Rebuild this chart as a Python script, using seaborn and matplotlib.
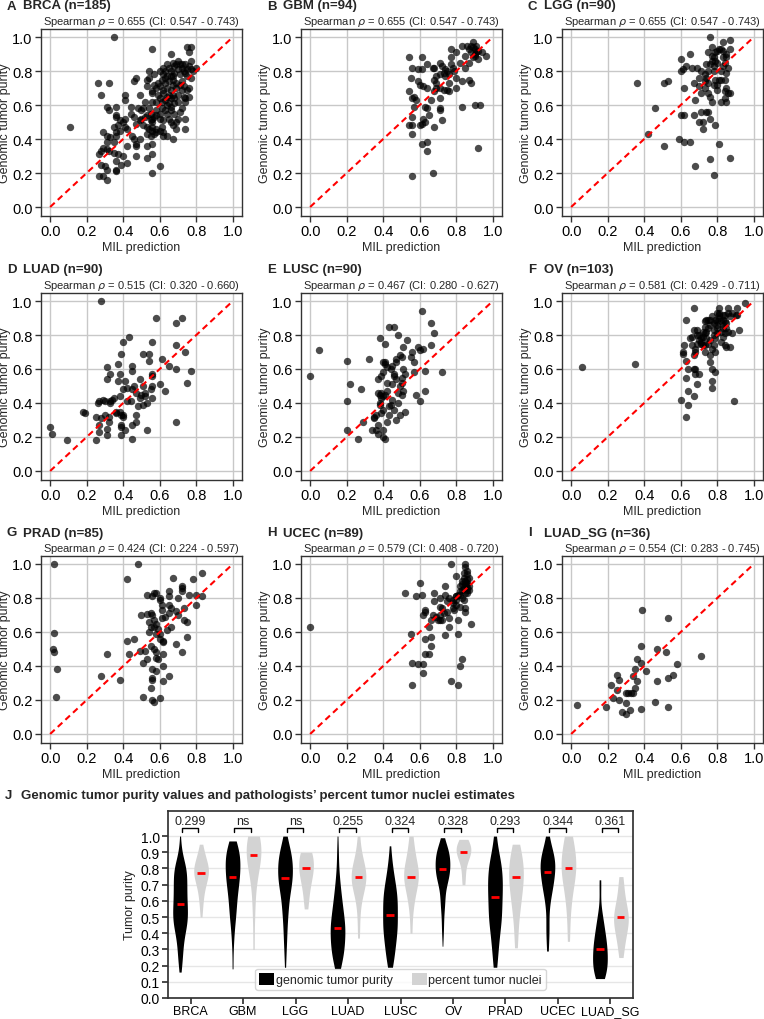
import numpy as np
import pandas as pd
import matplotlib.pyplot as plt
import seaborn as sns

# ---------------- data ----------------
cancers = ["BRCA", "GBM", "LGG", "LUAD", "LUSC", "OV", "PRAD", "UCEC", "LUAD_SG"]
letters = ["A", "B", "C", "D", "E", "F", "G", "H", "I"]
n_cases = [185, 94, 90, 90, 90, 103, 85, 89, 36]
spearman = ["0.655 (CI: 0.547 - 0.743)", "0.655 (CI: 0.547 - 0.743)",
            "0.655 (CI: 0.547 - 0.743)", "0.515 (CI: 0.320 - 0.660)",
            "0.467 (CI: 0.280 - 0.627)", "0.581 (CI: 0.429 - 0.711)",
            "0.424 (CI: 0.224 - 0.597)", "0.579 (CI: 0.408 - 0.720)",
            "0.554 (CI: 0.283 - 0.745)"]
pair_labels = ["0.299", "ns", "ns", "0.255", "0.324", "0.328", "0.293", "0.344", "0.361"]

# (MIL prediction, genomic tumor purity)
brca = [(0.35, 1.00), (0.56, 0.93), (0.75, 0.94), (0.77, 0.94), (0.66, 0.90), (0.76, 0.91), (0.67, 0.85),
        (0.69, 0.84), (0.71, 0.84), (0.72, 0.84), (0.74, 0.84), (0.77, 0.86), (0.80, 0.82), (0.75, 0.81),
        (0.77, 0.81), (0.54, 0.80), (0.60, 0.80), (0.63, 0.80), (0.65, 0.82), (0.57, 0.78), (0.53, 0.75),
        (0.54, 0.76), (0.47, 0.76), (0.46, 0.74), (0.64, 0.77), (0.66, 0.77), (0.67, 0.77), (0.71, 0.78),
        (0.73, 0.80), (0.75, 0.77), (0.77, 0.76), (0.26, 0.73), (0.32, 0.73), (0.58, 0.70), (0.60, 0.71),
        (0.63, 0.73), (0.64, 0.70), (0.67, 0.72), (0.69, 0.73), (0.72, 0.74), (0.76, 0.70), (0.75, 0.69),
        (0.53, 0.71), (0.28, 0.66), (0.41, 0.66), (0.41, 0.63), (0.49, 0.66), (0.56, 0.68), (0.56, 0.67),
        (0.62, 0.67), (0.64, 0.65), (0.65, 0.66), (0.66, 0.69), (0.67, 0.66), (0.68, 0.64), (0.73, 0.65),
        (0.74, 0.64), (0.76, 0.65), (0.31, 0.59), (0.32, 0.57), (0.36, 0.59), (0.36, 0.54), (0.36, 0.53),
        (0.44, 0.59), (0.46, 0.53), (0.50, 0.57), (0.51, 0.58), (0.54, 0.58), (0.55, 0.55), (0.56, 0.62),
        (0.58, 0.62), (0.61, 0.62), (0.63, 0.63), (0.65, 0.61), (0.66, 0.59), (0.61, 0.58), (0.63, 0.57),
        (0.64, 0.55), (0.58, 0.57), (0.60, 0.55), (0.66, 0.57), (0.68, 0.55), (0.72, 0.58), (0.71, 0.56),
        (0.74, 0.52), (0.41, 0.52), (0.40, 0.50), (0.38, 0.51), (0.49, 0.51), (0.50, 0.52), (0.52, 0.53),
        (0.53, 0.54), (0.55, 0.51), (0.56, 0.52), (0.56, 0.50), (0.57, 0.53), (0.58, 0.54), (0.60, 0.52),
        (0.62, 0.51), (0.65, 0.52), (0.66, 0.50), (0.69, 0.50), (0.70, 0.52), (0.35, 0.47), (0.37, 0.48),
        (0.41, 0.47), (0.42, 0.46), (0.47, 0.49), (0.51, 0.48), (0.53, 0.47), (0.54, 0.46), (0.56, 0.47),
        (0.56, 0.45), (0.58, 0.46), (0.60, 0.45), (0.61, 0.47), (0.62, 0.44), (0.64, 0.42), (0.67, 0.48),
        (0.69, 0.46), (0.74, 0.46), (0.29, 0.44), (0.31, 0.42), (0.36, 0.42), (0.36, 0.44), (0.38, 0.45),
        (0.45, 0.42), (0.46, 0.40), (0.53, 0.43), (0.55, 0.42), (0.57, 0.43), (0.58, 0.44), (0.62, 0.42),
        (0.47, 0.37), (0.49, 0.40), (0.56, 0.37), (0.67, 0.40), (0.35, 0.38), (0.33, 0.41), (0.31, 0.38),
        (0.29, 0.35), (0.31, 0.34), (0.42, 0.36), (0.47, 0.36), (0.53, 0.36), (0.28, 0.33), (0.32, 0.33),
        (0.35, 0.32), (0.37, 0.31), (0.27, 0.31), (0.40, 0.30), (0.47, 0.30), (0.53, 0.29), (0.56, 0.31),
        (0.36, 0.27), (0.39, 0.25), (0.42, 0.26), (0.28, 0.25), (0.30, 0.24), (0.36, 0.22), (0.60, 0.24),
        (0.56, 0.20), (0.31, 0.22), (0.27, 0.18), (0.29, 0.18), (0.31, 0.16), (0.36, 0.21), (0.11, 0.47),
        (0.62, 0.78), (0.70, 0.81), (0.68, 0.79), (0.59, 0.66), (0.70, 0.62), (0.48, 0.58), (0.44, 0.55),
        (0.52, 0.62), (0.72, 0.69), (0.78, 0.80), (0.62, 0.82), (0.64, 0.84), (0.66, 0.80), (0.68, 0.83),
        (0.70, 0.86), (0.72, 0.82), (0.74, 0.79), (0.76, 0.83), (0.61, 0.75), (0.63, 0.76), (0.65, 0.74),
        (0.67, 0.75), (0.69, 0.70), (0.71, 0.72), (0.73, 0.71), (0.59, 0.73), (0.62, 0.69), (0.66, 0.64),
        (0.70, 0.66), (0.60, 0.64), (0.57, 0.72), (0.68, 0.61), (0.74, 0.62), (0.64, 0.60)]
gbm = [(0.54, 0.88), (0.61, 0.88), (0.56, 0.82), (0.59, 0.81), (0.61, 0.81), (0.64, 0.84), (0.67, 0.82),
       (0.68, 0.82), (0.71, 0.85), (0.72, 0.83), (0.74, 0.77), (0.76, 0.78), (0.78, 0.82), (0.77, 0.84),
       (0.77, 0.88), (0.77, 0.93), (0.83, 0.95), (0.86, 0.95), (0.87, 0.93), (0.89, 0.94), (0.89, 0.97),
       (0.91, 0.95), (0.92, 0.92), (0.94, 0.91), (0.96, 0.89), (0.90, 0.90), (0.90, 0.89), (0.89, 0.88),
       (0.92, 0.87), (0.87, 0.85), (0.82, 0.85), (0.85, 0.82), (0.83, 0.74), (0.87, 0.75), (0.88, 0.73),
       (0.90, 0.60), (0.93, 0.60), (0.92, 0.35), (0.83, 0.59), (0.80, 0.70), (0.75, 0.69), (0.76, 0.68),
       (0.71, 0.70), (0.73, 0.69), (0.69, 0.70), (0.68, 0.68), (0.66, 0.63), (0.71, 0.64), (0.71, 0.58),
       (0.71, 0.57), (0.72, 0.51), (0.68, 0.47), (0.65, 0.54), (0.63, 0.59), (0.64, 0.58), (0.62, 0.52),
       (0.63, 0.50), (0.61, 0.49), (0.60, 0.48), (0.56, 0.48), (0.54, 0.48), (0.56, 0.53), (0.57, 0.59),
       (0.58, 0.63), (0.56, 0.64), (0.57, 0.65), (0.55, 0.76), (0.59, 0.74), (0.60, 0.72), (0.62, 0.71),
       (0.54, 0.68), (0.56, 0.43), (0.61, 0.37), (0.64, 0.38), (0.64, 0.33), (0.56, 0.18), (0.67, 0.20),
       (0.68, 0.75), (0.69, 0.77), (0.71, 0.78), (0.74, 0.81), (0.80, 0.76), (0.76, 0.73), (0.69, 0.73),
       (0.80, 0.91), (0.85, 0.89), (0.88, 0.91), (0.90, 0.93), (0.91, 0.91), (0.75, 0.80), (0.73, 0.79),
       (0.79, 0.80), (0.64, 0.70), (0.88, 0.95)]
lgg = [(0.36, 0.73), (0.42, 0.43), (0.46, 0.58), (0.51, 0.73), (0.53, 0.74), (0.51, 0.36), (0.59, 0.40),
       (0.60, 0.54), (0.62, 0.54), (0.62, 0.38), (0.65, 0.38), (0.60, 0.87), (0.62, 0.70), (0.60, 0.80),
       (0.61, 0.81), (0.63, 0.83), (0.65, 0.90), (0.66, 0.82), (0.69, 0.82), (0.67, 0.73), (0.68, 0.63),
       (0.67, 0.54), (0.68, 0.24), (0.70, 0.71), (0.71, 0.80), (0.71, 0.67), (0.71, 0.56), (0.70, 0.50),
       (0.72, 0.50), (0.72, 0.46), (0.73, 0.78), (0.74, 0.76), (0.74, 0.84), (0.74, 0.56), (0.75, 0.56),
       (0.75, 0.67), (0.76, 0.65), (0.76, 0.52), (0.76, 0.28), (0.76, 1.00), (0.77, 0.86), (0.77, 0.89),
       (0.78, 0.88), (0.79, 0.86), (0.78, 0.19), (0.78, 0.80), (0.78, 0.72), (0.79, 0.75), (0.79, 0.48),
       (0.80, 0.92), (0.81, 0.93), (0.80, 0.69), (0.81, 0.37), (0.81, 0.75), (0.82, 0.75), (0.82, 0.93),
       (0.83, 0.92), (0.83, 0.97), (0.84, 0.85), (0.83, 0.83), (0.84, 0.75), (0.84, 0.64), (0.82, 0.62),
       (0.85, 0.62), (0.85, 0.90), (0.85, 0.88), (0.85, 0.70), (0.86, 0.67), (0.87, 0.67), (0.87, 0.93),
       (0.87, 0.98), (0.87, 0.29), (0.86, 0.82), (0.85, 0.79), (0.75, 0.80), (0.73, 0.74), (0.75, 0.73),
       (0.75, 0.91), (0.77, 0.94), (0.78, 0.83), (0.80, 0.85), (0.82, 0.80), (0.76, 0.84), (0.79, 0.91),
       (0.83, 0.88), (0.73, 0.70), (0.77, 0.62), (0.80, 0.72), (0.84, 0.68), (0.70, 0.76)]
luad = [(0.28, 1.00), (0.00, 0.26), (0.01, 0.22), (0.09, 0.18), (0.18, 0.35), (0.19, 0.34), (0.25, 0.18),
        (0.25, 0.32), (0.26, 0.40), (0.27, 0.41), (0.29, 0.42), (0.27, 0.27), (0.27, 0.23), (0.31, 0.61),
        (0.31, 0.54), (0.30, 0.41), (0.30, 0.33), (0.31, 0.25), (0.31, 0.21), (0.32, 0.32), (0.32, 0.29),
        (0.33, 0.57), (0.33, 0.41), (0.34, 0.42), (0.35, 0.43), (0.36, 0.34), (0.37, 0.63), (0.37, 0.53),
        (0.38, 0.57), (0.38, 0.44), (0.38, 0.35), (0.39, 0.33), (0.39, 0.27), (0.39, 0.26), (0.39, 0.21),
        (0.39, 0.69), (0.40, 0.76), (0.40, 0.48), (0.40, 0.33), (0.40, 0.32), (0.41, 0.24), (0.41, 0.53),
        (0.42, 0.49), (0.42, 0.41), (0.43, 0.79), (0.45, 0.59), (0.45, 0.62), (0.45, 0.27), (0.45, 0.19),
        (0.45, 0.48), (0.46, 0.50), (0.47, 0.33), (0.47, 0.29), (0.47, 0.46), (0.48, 0.38), (0.49, 0.54),
        (0.49, 0.43), (0.51, 0.69), (0.51, 0.39), (0.52, 0.46), (0.52, 0.44), (0.53, 0.40), (0.53, 0.24),
        (0.54, 0.65), (0.54, 0.69), (0.55, 0.48), (0.56, 0.56), (0.56, 0.43), (0.56, 0.76), (0.56, 0.50),
        (0.58, 0.90), (0.60, 0.51), (0.61, 0.66), (0.63, 0.47), (0.65, 0.62), (0.69, 0.60), (0.69, 0.87),
        (0.69, 0.74), (0.69, 0.29), (0.72, 0.90), (0.74, 0.70), (0.75, 0.52), (0.77, 0.59), (0.56, 0.57),
        (0.51, 0.50), (0.33, 0.40), (0.36, 0.35), (0.28, 0.31), (0.44, 0.41), (0.50, 0.45)]
lusc = [(0.00, 0.56), (0.05, 0.71), (0.20, 0.65), (0.20, 0.41), (0.20, 0.24), (0.22, 0.51), (0.26, 0.19),
        (0.28, 0.48), (0.29, 0.29), (0.32, 0.66), (0.34, 0.24), (0.35, 0.32), (0.36, 0.24), (0.37, 0.54),
        (0.37, 0.22), (0.37, 0.27), (0.38, 0.39), (0.38, 0.78), (0.38, 0.45), (0.39, 0.46), (0.39, 0.56),
        (0.39, 0.34), (0.40, 0.64), (0.40, 0.44), (0.40, 0.24), (0.40, 0.20), (0.41, 0.19), (0.40, 0.58),
        (0.41, 0.75), (0.41, 0.64), (0.41, 0.45), (0.42, 0.61), (0.42, 0.52), (0.42, 0.29), (0.43, 0.85),
        (0.43, 0.33), (0.44, 0.60), (0.45, 0.51), (0.45, 0.42), (0.46, 0.85), (0.46, 0.36), (0.46, 0.56),
        (0.46, 0.57), (0.47, 0.66), (0.47, 0.30), (0.47, 0.64), (0.48, 0.80), (0.48, 0.40), (0.49, 0.68),
        (0.49, 0.50), (0.49, 0.33), (0.50, 0.45), (0.50, 0.67), (0.50, 0.55), (0.50, 0.52), (0.51, 0.47),
        (0.51, 0.73), (0.52, 0.35), (0.52, 0.57), (0.53, 0.77), (0.55, 0.67), (0.56, 0.70), (0.57, 0.58),
        (0.57, 0.64), (0.58, 0.45), (0.59, 0.73), (0.60, 0.71), (0.60, 0.41), (0.61, 0.94), (0.62, 0.72),
        (0.63, 0.59), (0.63, 0.47), (0.66, 0.87), (0.66, 0.74), (0.68, 0.81), (0.72, 0.58), (0.43, 0.38),
        (0.38, 0.40), (0.35, 0.31), (0.41, 0.63), (0.36, 0.33), (0.42, 0.47), (0.44, 0.39), (0.39, 0.43),
        (0.47, 0.54), (0.45, 0.62), (0.51, 0.60), (0.40, 0.36), (0.37, 0.46), (0.48, 0.46)]
ov = [(0.06, 0.61), (0.35, 0.63), (0.60, 0.42), (0.63, 0.32), (0.64, 0.39), (0.64, 0.47), (0.63, 0.55),
      (0.64, 0.60), (0.67, 0.44), (0.67, 0.60), (0.68, 0.60), (0.68, 0.57), (0.70, 0.57), (0.69, 0.51),
      (0.61, 0.70), (0.61, 0.69), (0.62, 0.74), (0.63, 0.65), (0.63, 0.89), (0.65, 0.78), (0.67, 0.83),
      (0.67, 0.96), (0.67, 0.68), (0.68, 0.70), (0.69, 0.80), (0.69, 0.83), (0.70, 0.77), (0.71, 0.78),
      (0.71, 0.76), (0.72, 0.74), (0.72, 0.79), (0.73, 0.81), (0.73, 0.85), (0.74, 0.89), (0.75, 0.89),
      (0.75, 0.84), (0.76, 0.77), (0.76, 0.64), (0.77, 0.60), (0.77, 0.53), (0.77, 0.49), (0.78, 0.87),
      (0.78, 0.80), (0.78, 0.74), (0.79, 0.70), (0.79, 0.58), (0.79, 0.89), (0.80, 0.84), (0.80, 0.81),
      (0.81, 0.92), (0.81, 0.93), (0.82, 0.82), (0.83, 0.84), (0.83, 0.92), (0.84, 0.92), (0.84, 0.88),
      (0.84, 0.74), (0.85, 0.73), (0.86, 0.96), (0.86, 0.93), (0.86, 0.82), (0.87, 0.73), (0.88, 0.81),
      (0.89, 0.41), (0.90, 0.92), (0.91, 0.92), (0.92, 0.83), (0.91, 0.96), (0.95, 0.99), (0.74, 0.78),
      (0.75, 0.75), (0.76, 0.89), (0.71, 0.75), (0.73, 0.74), (0.82, 0.88), (0.81, 0.96), (0.83, 0.79),
      (0.73, 0.70), (0.66, 0.74), (0.76, 0.68), (0.70, 0.80), (0.72, 0.82), (0.76, 0.86), (0.78, 0.83),
      (0.80, 0.86), (0.81, 0.90), (0.83, 0.89), (0.84, 0.81), (0.85, 0.87), (0.79, 0.78), (0.74, 0.82),
      (0.77, 0.72), (0.82, 0.76), (0.88, 0.93), (0.87, 0.91), (0.68, 0.72), (0.66, 0.79), (0.80, 0.93),
      (0.73, 0.88), (0.69, 0.75), (0.80, 0.88), (0.77, 0.91), (0.85, 0.84), (0.83, 0.86)]
prad = [(0.02, 1.00), (0.48, 1.00), (0.42, 0.91), (0.67, 0.92), (0.78, 0.91), (0.83, 0.95), (0.72, 0.87),
        (0.72, 0.86), (0.53, 0.82), (0.57, 0.83), (0.58, 0.83), (0.56, 0.81), (0.60, 0.80), (0.65, 0.84),
        (0.65, 0.81), (0.70, 0.80), (0.72, 0.84), (0.76, 0.82), (0.80, 0.82), (0.83, 0.81), (0.80, 0.76),
        (0.65, 0.76), (0.61, 0.76), (0.73, 0.74), (0.66, 0.74), (0.02, 0.595), (0.015, 0.50), (0.02, 0.48),
        (0.04, 0.38), (0.03, 0.22), (0.28, 0.34), (0.31, 0.47), (0.38, 0.32), (0.42, 0.55), (0.43, 0.47),
        (0.46, 0.56), (0.49, 0.49), (0.51, 0.42), (0.51, 0.22), (0.52, 0.49), (0.53, 0.705), (0.55, 0.71),
        (0.53, 0.44), (0.54, 0.60), (0.55, 0.27), (0.55, 0.63), (0.56, 0.38), (0.56, 0.33), (0.56, 0.32),
        (0.56, 0.20), (0.56, 0.70), (0.57, 0.67), (0.58, 0.65), (0.57, 0.63), (0.57, 0.50), (0.58, 0.48),
        (0.58, 0.37), (0.59, 0.44), (0.58, 0.59), (0.60, 0.59), (0.60, 0.21), (0.60, 0.79), (0.61, 0.68),
        (0.61, 0.73), (0.62, 0.55), (0.62, 0.54), (0.62, 0.40), (0.62, 0.31), (0.64, 0.61), (0.65, 0.71),
        (0.65, 0.34), (0.69, 0.53), (0.69, 0.725), (0.72, 0.48), (0.73, 0.67), (0.75, 0.66), (0.75, 0.57),
        (0.57, 0.19), (0.60, 0.56), (0.54, 0.66), (0.63, 0.69), (0.59, 0.62), (0.66, 0.63), (0.70, 0.70),
        (0.50, 0.70), (0.58, 0.45), (0.55, 0.52), (0.62, 0.47)]
ucec = [(0.00, 0.63), (0.52, 0.83), (0.55, 0.59), (0.56, 0.42), (0.56, 0.29), (0.58, 0.81), (0.59, 0.41),
        (0.60, 0.89), (0.61, 0.82), (0.62, 0.41), (0.62, 0.36), (0.62, 0.70), (0.63, 0.72), (0.63, 0.73),
        (0.63, 0.47), (0.63, 0.56), (0.65, 0.47), (0.65, 0.63), (0.66, 0.52), (0.66, 0.57), (0.66, 0.67),
        (0.67, 0.70), (0.68, 0.78), (0.68, 0.83), (0.69, 0.69), (0.70, 0.67), (0.71, 0.67), (0.71, 0.70),
        (0.71, 0.80), (0.71, 0.75), (0.72, 0.67), (0.73, 0.71), (0.74, 0.58), (0.74, 0.87), (0.74, 0.82),
        (0.75, 0.72), (0.75, 0.78), (0.76, 0.68), (0.76, 0.63), (0.77, 1.00), (0.77, 0.31), (0.78, 0.79),
        (0.78, 0.74), (0.79, 0.73), (0.80, 0.93), (0.80, 0.79), (0.80, 0.81), (0.81, 0.82), (0.81, 0.59),
        (0.81, 0.67), (0.81, 0.29), (0.82, 0.40), (0.82, 0.75), (0.82, 0.82), (0.83, 0.85), (0.83, 0.44),
        (0.83, 0.90), (0.84, 0.86), (0.84, 0.79), (0.85, 0.83), (0.85, 1.00), (0.85, 0.98), (0.85, 0.74),
        (0.85, 0.72), (0.86, 0.96), (0.86, 0.94), (0.86, 0.91), (0.86, 0.86), (0.87, 0.85), (0.86, 0.85),
        (0.87, 0.92), (0.88, 0.65), (0.80, 0.81), (0.76, 0.80), (0.83, 0.88), (0.85, 0.88), (0.82, 0.87),
        (0.86, 0.89), (0.84, 0.92), (0.85, 0.90), (0.86, 0.88), (0.82, 0.84), (0.83, 0.80), (0.80, 0.76),
        (0.78, 0.77), (0.86, 0.83), (0.87, 0.87), (0.84, 0.95), (0.72, 0.74)]
luad_sg = [(0.03, 0.17), (0.19, 0.16), (0.22, 0.29), (0.23, 0.21), (0.25, 0.35), (0.25, 0.26), (0.26, 0.20),
           (0.26, 0.32), (0.28, 0.13), (0.30, 0.24), (0.31, 0.24), (0.30, 0.18), (0.30, 0.12), (0.32, 0.14),
           (0.33, 0.24), (0.34, 0.24), (0.34, 0.34), (0.35, 0.38), (0.35, 0.27), (0.36, 0.31), (0.36, 0.44),
           (0.38, 0.42), (0.38, 0.52), (0.38, 0.15), (0.39, 0.73), (0.41, 0.37), (0.46, 0.19), (0.47, 0.50),
           (0.47, 0.31), (0.52, 0.48), (0.53, 0.33), (0.53, 0.16), (0.53, 0.68), (0.56, 0.35), (0.58, 0.41),
           (0.71, 0.46)]
panels = [brca, gbm, lgg, luad, lusc, ov, prad, ucec, luad_sg]

# pathologists' percent tumor nuclei (as fraction)
nuclei_brca = [0.5, 0.55, 0.6, 0.6, 0.65, 0.65, 0.7, 0.7, 0.7, 0.7, 0.75, 0.75, 0.75, 0.75, 0.75, 0.75,
               0.8, 0.8, 0.8, 0.8, 0.8, 0.8, 0.8, 0.8, 0.85, 0.85, 0.85, 0.85, 0.9, 0.9, 0.9, 0.95]
nuclei_gbm = [0.3, 0.5, 0.6, 0.7, 0.75, 0.8, 0.8, 0.85, 0.85, 0.87, 0.9, 0.9, 0.9, 0.95, 0.95, 0.95,
              1.0, 1.0, 1.0, 1.0]
nuclei_lgg = [0.55, 0.6, 0.65, 0.7, 0.7, 0.75, 0.75, 0.8, 0.8, 0.8, 0.8, 0.85, 0.85, 0.9, 0.9, 0.9, 0.9]
nuclei_luad = [0.37, 0.5, 0.6, 0.65, 0.7, 0.7, 0.7, 0.75, 0.75, 0.75, 0.75, 0.8, 0.8, 0.8, 0.85, 0.9, 1.0]
nuclei_lusc = [0.4, 0.55, 0.6, 0.65, 0.7, 0.7, 0.75, 0.75, 0.75, 0.75, 0.8, 0.8, 0.8, 0.85, 0.9, 0.95, 1.0]
nuclei_ov = [0.7, 0.75, 0.8, 0.85, 0.85, 0.9, 0.9, 0.9, 0.9, 0.9, 0.95, 0.95, 0.95, 0.95, 0.98]
nuclei_prad = [0.31, 0.4, 0.5, 0.55, 0.6, 0.6, 0.65, 0.7, 0.7, 0.75, 0.75, 0.75, 0.8, 0.8, 0.85, 0.85,
               0.9, 0.9, 0.95]
nuclei_ucec = [0.35, 0.5, 0.6, 0.65, 0.7, 0.75, 0.75, 0.8, 0.8, 0.8, 0.85, 0.85, 0.9, 0.9, 0.95, 1.0, 1.0]
nuclei_luad_sg = [0.25, 0.3, 0.35, 0.4, 0.4, 0.45, 0.45, 0.5, 0.5, 0.5, 0.5, 0.55, 0.55, 0.6, 0.65,
                  0.7, 0.75]
nuclei = [nuclei_brca, nuclei_gbm, nuclei_lgg, nuclei_luad, nuclei_lusc, nuclei_ov,
          nuclei_prad, nuclei_ucec, nuclei_luad_sg]

# ---------------- style ----------------
sns.set_theme(style="ticks")
plt.rcParams["font.family"] = ["Liberation Sans", "DejaVu Sans"]
plt.rcParams["axes.edgecolor"] = "#333333"
plt.rcParams["xtick.color"] = "#333333"
plt.rcParams["ytick.color"] = "#333333"
plt.rcParams["xtick.labelcolor"] = "black"
plt.rcParams["ytick.labelcolor"] = "black"

W, H = 764, 1020
fig = plt.figure(figsize=(W / 100, H / 100), dpi=100)


def px_axes(left, top, w, h):
    return fig.add_axes([left / W, 1 - (top + h) / H, w / W, h / H])


# ---------------- scatter panels A-I ----------------
col_left = [41, 301, 562]
row_top = [29.5, 293.5, 556.5]
ticks = np.arange(0, 1.01, 0.2)

for i, pts in enumerate(panels):
    r, c = divmod(i, 3)
    ax = px_axes(col_left[c], row_top[r], 201, 187)
    mil, purity = zip(*pts)
    ax.grid(True, color="#c8c8c8", linewidth=1)
    ax.set_axisbelow(True)
    sns.scatterplot(x=list(mil), y=list(purity), color="black", alpha=0.7, s=28,
                    linewidth=0, ax=ax)
    ax.plot([0, 1], [0, 1], color="red", linestyle=(0, (3, 2)), linewidth=1.5, zorder=3)
    ax.set_xlim(-0.05, 1.05)
    ax.set_ylim(-0.05, 1.05)
    ax.set_xticks(ticks)
    ax.set_yticks(ticks)
    ax.tick_params(labelsize=10.5, length=4, width=1, pad=2)
    for s in ax.spines.values():
        s.set_linewidth(1)
    ax.set_xlabel("MIL prediction", fontsize=9, labelpad=2)
    ax.set_ylabel("Genomic tumor purity", fontsize=9, labelpad=1)
    ax.set_title(r"Spearman $\rho$ = " + spearman[i], fontsize=8, pad=2)
    ty = 1 - (row_top[r] - 23) / H
    fig.text((col_left[c] - 34) / W, ty, letters[i], fontsize=9.5, fontweight="bold", va="center")
    fig.text((col_left[c] - 18) / W, ty, f"{cancers[i]} (n={n_cases[i]})", fontsize=9.5,
             fontweight="bold", va="center")

# ---------------- violin panel J ----------------
rows = []
for name, pts, pct in zip(cancers, panels, nuclei):
    rows += [(name, "genomic tumor purity", p) for _, p in pts]
    rows += [(name, "percent tumor nuclei", v) for v in pct]
df = pd.DataFrame(rows, columns=["cancer", "source", "purity"])

axj = px_axes(168, 812, 465, 187)
axj.yaxis.grid(True, color="#e6e6e6", linewidth=1)
axj.set_axisbelow(True)
sns.violinplot(data=df, x="cancer", y="purity", hue="source", order=cancers,
               palette=["black", "#d3d3d3"], cut=0, inner=None, linewidth=0,
               density_norm="width", width=0.8, gap=0.3, ax=axj)
sns.boxplot(data=df, x="cancer", y="purity", hue="source", order=cancers, width=0.8, gap=0.66,
            showbox=False, showcaps=False, showfliers=False, whiskerprops={"visible": False},
            medianprops={"color": "red", "linewidth": 2, "zorder": 4}, legend=False, ax=axj)

for i, lab in enumerate(pair_labels):
    axj.plot([i - 0.17, i - 0.17, i + 0.15, i + 0.15], [1.028, 1.047, 1.047, 1.028],
             color="black", linewidth=1)
    axj.text(i, 1.055, lab, ha="center", va="bottom", fontsize=9)

axj.set_xlim(-0.43, 8.43)
axj.set_ylim(0, 1.155)
axj.set_yticks(np.arange(0, 1.01, 0.1))
axj.set_yticklabels([f"{v:.1f}" for v in np.arange(0, 1.01, 0.1)])
axj.tick_params(axis="y", labelsize=10, length=4, pad=2)
axj.tick_params(axis="x", labelsize=9, length=4, pad=1)
axj.set_xlabel("")
axj.set_ylabel("Tumor purity", fontsize=9, labelpad=3)
handles, labels = axj.get_legend_handles_labels()
axj.legend(handles[:2], labels[:2], ncol=2, loc="lower center", fontsize=9, handlelength=1.2,
           handleheight=1.2, handletextpad=0.15, columnspacing=1.5, borderpad=0.3,
           frameon=True, edgecolor="#cccccc", bbox_to_anchor=(0.5, 0.01))

fig.text(5 / W, 1 - 796 / H, "J", fontsize=9.5, fontweight="bold", va="center")
fig.text(21 / W, 1 - 796 / H,
         "Genomic tumor purity values and pathologists\u2019 percent tumor nuclei estimates",
         fontsize=9.5, fontweight="bold", va="center")

fig.savefig("out.png", dpi=100)
